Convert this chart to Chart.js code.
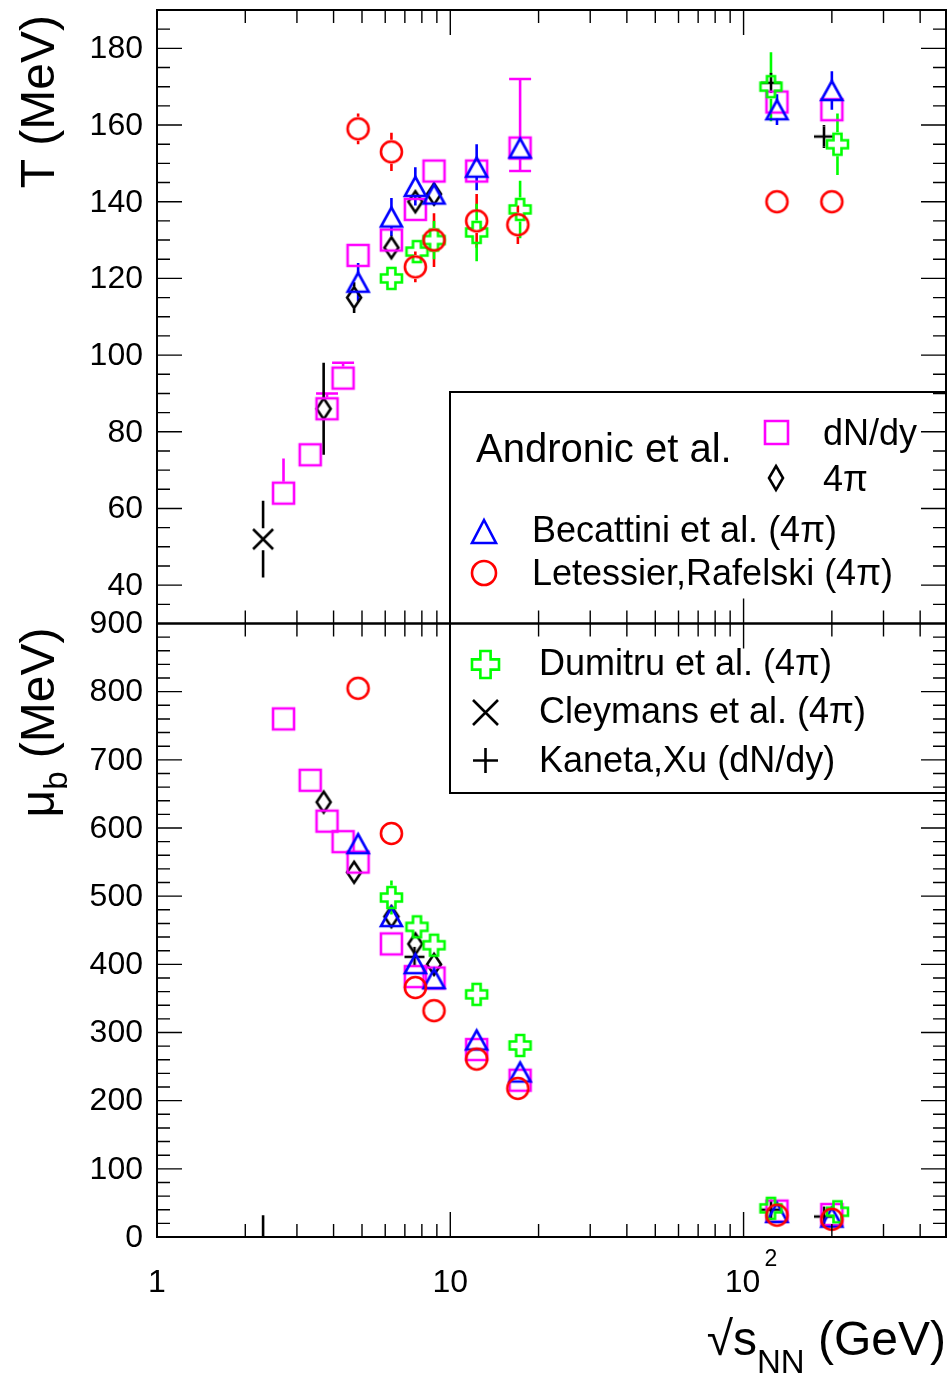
<!DOCTYPE html>
<html>
<head>
<meta charset="utf-8">
<script src="https://cdn.jsdelivr.net/npm/chart.js@4.4.0/dist/chart.umd.min.js"></script>
<style>
  html, body { margin: 0; padding: 0; background: #fff; overflow: hidden; }
  canvas { display: block; }
</style>
</head>
<body>
<canvas id="c" width="948" height="1374"></canvas>
<script>
// values: sqrt(s_NN) in GeV, T and mu_b in MeV
// errors: number = symmetric, [lo, hi, cap] = asymmetric (cap = draw end caps)

// Andronic et al., dN/dy (magenta squares)
const andronicX = [2.7, 3.33, 3.8, 4.31, 4.85, 6.3, 7.6, 8.8, 12.3, 17.3, 130, 200];
const andronicT = [64, 74, 86, 94, 126, 130, 138, 148, 148, 154, 166, 164];
const andronicTErr = [[0, 9, 0], 0, [0, 4, 1], [0, 4, 1], 0, 0, 0, 0, 0, [6, 18, 1], 0, 0];
const andronicMu = [760, 670, 610, 580, 550, 430, 382, 380, 275, 230, 38, 33];
const andronicMuErr = [7, 0, 0, 0, 0, 0, 0, 0, 0, 0, 0, 0];

// Andronic et al., 4pi (diamonds)
const andronic4piX = [3.7, 4.7, 6.3, 7.6, 8.8];
const andronic4piT = [86, 115, 128, 140, 142];
const andronic4piTErr = [12, 4, 2, 2, 2];
const andronic4piMu = [638, 535, 470, 430, 400];

// Becattini et al. (triangles)
const becattiniX = [4.85, 6.3, 7.6, 8.8, 12.3, 17.3, 130, 200];
const becattiniT = [119, 136, 144, 142, 149, 154, 164, 169];
const becattiniTErr = [5, 5, 5, 3, 6, 3, 4, 5];
const becattiniMu = [577, 470, 401, 379, 289, 242, 36, 29];

// Letessier, Rafelski (circles)
const letessierX = [4.85, 6.3, 7.6, 8.8, 12.3, 17.0, 130, 200];
const letessierT = [159, 153, 123, 130, 135, 134, 140, 140];
const letessierTErr = [4, 5, 4, 7, 7, 5, 0, 0];
const letessierMu = [805, 592, 366, 332, 261, 218, 32, 26];

// Dumitru et al. (open crosses)
const dumitruX = [6.3, 7.7, 8.8, 12.3, 17.3, 124, 209];
const dumitruT = [120, 127, 130, 132, 138, 170, 155];
const dumitruTErr = [0, 0, 5, 7.5, 7.5, 9, 8];
const dumitruMu = [498, 455, 428, 356, 281, 42, 37];
const dumitruMuErr = [25, 0, 0, 0, 0, 0, 0];

// Cleymans et al. (x) - mu_b point lies below the frame, only its bar shows
const cleymansX = [2.3];
const cleymansT = [52];
const cleymansTErr = [10];
const cleymansMu = [-20];
const cleymansMuErr = [52];

// Kaneta, Xu (+)
const kanetaX = [7.55, 124, 188];
const kanetaT = [null, 171, 157];
const kanetaTErr = [0, 0, 3];
const kanetaMu = [411, 40, 30];

// axis ticks / labels
const xRange = [1, 490];
const tRange = [30, 190];
const muRange = [0, 900];
const tTickLabels = [40, 60, 80, 100, 120, 140, 160, 180];
const muTickLabels = [0, 100, 200, 300, 400, 500, 600, 700, 800, 900];
const xTickLabels = [1, 10, 100];

const FONT = "'Liberation Sans', Arial, Helvetica, sans-serif";

// marker bitmaps (ROOT-like open markers)
function makeMarker(kind, w, h, color, lw) {
    const pad = Math.ceil(lw) + 1;
    const c = document.createElement('canvas');
    c.width = Math.round(w + 2 * pad);
    c.height = Math.round(h + 2 * pad);
    const g = c.getContext('2d');
    g.strokeStyle = color;
    g.lineWidth = lw;
    const cx = c.width / 2, cy = c.height / 2, a = w / 2, b = h / 2;
    g.beginPath();
    if (kind === 'square') g.rect(cx - a, cy - b, w, h);
    else if (kind === 'circle') g.arc(cx, cy, a, 0, Math.PI * 2);
    else if (kind === 'triangle') {
        g.moveTo(cx, cy - b); g.lineTo(cx + a, cy + b); g.lineTo(cx - a, cy + b); g.closePath();
    } else if (kind === 'diamond') {
        g.moveTo(cx, cy - b); g.lineTo(cx + a, cy); g.lineTo(cx, cy + b); g.lineTo(cx - a, cy); g.closePath();
    } else if (kind === 'opencross') {
        const t = w * 0.19;
        const pts = [[-t, -a], [t, -a], [t, -t], [a, -t], [a, t], [t, t], [t, a], [-t, a], [-t, t], [-a, t], [-a, -t], [-t, -t]];
        pts.forEach((p, i) => i ? g.lineTo(cx + p[0], cy + p[1]) : g.moveTo(cx + p[0], cy + p[1]));
        g.closePath();
    } else if (kind === 'x') {
        g.moveTo(cx - a, cy - b); g.lineTo(cx + a, cy + b);
        g.moveTo(cx + a, cy - b); g.lineTo(cx - a, cy + b);
    } else if (kind === 'plus') {
        g.moveTo(cx - a, cy); g.lineTo(cx + a, cy);
        g.moveTo(cx, cy - b); g.lineTo(cx, cy + b);
    }
    g.stroke();
    return c;
}

const MAG = '#ff00ff', RED = '#ff0000', BLUE = '#0000ff', GREEN = '#00ff00', BLK = '#000000';
const LW = 2.6;

const mk = {
    square: makeMarker('square', 21, 21, MAG, LW),
    diamond: makeMarker('diamond', 14, 21, BLK, LW),
    triangle: makeMarker('triangle', 21, 19, BLUE, LW),
    circle: makeMarker('circle', 21, 21, RED, LW),
    cross: makeMarker('opencross', 21, 21, GREEN, LW),
    x: makeMarker('x', 20, 20, BLK, LW),
    plus: makeMarker('plus', 20, 20, BLK, LW)
};
const mkLeg = {
    square: makeMarker('square', 23, 23, MAG, LW),
    diamond: makeMarker('diamond', 14, 24, BLK, LW),
    triangle: makeMarker('triangle', 24, 23, BLUE, LW),
    circle: makeMarker('circle', 24, 24, RED, LW),
    cross: makeMarker('opencross', 27, 27, GREEN, LW),
    x: makeMarker('x', 25, 25, BLK, LW),
    plus: makeMarker('plus', 25, 25, BLK, LW)
};

// build datasets (one per series per panel)
const datasets = [];
function addSeries(xs, ys, errs, axis, marker, color, gap) {
    const data = [];
    xs.forEach((x, i) => {
        if (ys[i] == null) return;
        data.push({ x: x, y: ys[i], e: errs ? errs[i] : 0 });
    });
    datasets.push({
        data: data,
        yAxisID: axis,
        pointStyle: marker,
        pointRadius: 11,
        showLine: false,
        errColor: color,
        gap: gap
    });
}

addSeries(cleymansX, cleymansT, cleymansTErr, 'yT', mk.x, BLK, 11);
addSeries(cleymansX, cleymansMu, cleymansMuErr, 'yM', mk.x, BLK, 11);
addSeries(letessierX, letessierT, letessierTErr, 'yT', mk.circle, RED, 12);
addSeries(letessierX, letessierMu, null, 'yM', mk.circle, RED, 12);
addSeries(dumitruX, dumitruT, dumitruTErr, 'yT', mk.cross, GREEN, 12);
addSeries(dumitruX, dumitruMu, dumitruMuErr, 'yM', mk.cross, GREEN, 12);
addSeries(becattiniX, becattiniT, becattiniTErr, 'yT', mk.triangle, BLUE, 9);
addSeries(becattiniX, becattiniMu, null, 'yM', mk.triangle, BLUE, 9);
addSeries(andronicX, andronicT, andronicTErr, 'yT', mk.square, MAG, 11.5);
addSeries(andronicX, andronicMu, andronicMuErr, 'yM', mk.square, MAG, 11.5);
addSeries(andronic4piX, andronic4piT, andronic4piTErr, 'yT', mk.diamond, BLK, 11);
addSeries(andronic4piX, andronic4piMu, null, 'yM', mk.diamond, BLK, 11);
addSeries(kanetaX, kanetaT, kanetaTErr, 'yT', mk.plus, BLK, 10);
addSeries(kanetaX, kanetaMu, null, 'yM', mk.plus, BLK, 10);

// error bars, kept out of the open markers
const errorBars = {
    id: 'errorBars',
    beforeDatasetsDraw(chart) {
        const ctx = chart.ctx;
        chart.data.datasets.forEach((ds, i) => {
            const meta = chart.getDatasetMeta(i);
            const xs = meta.xScale, ys = meta.yScale;
            ctx.save();
            ctx.beginPath();
            ctx.rect(xs.left, ys.top, xs.right - xs.left, ys.bottom - ys.top);
            ctx.clip();
            ctx.strokeStyle = ds.errColor;
            ctx.lineWidth = LW;
            ds.data.forEach(p => {
                if (!p.e) return;
                const lo = Array.isArray(p.e) ? p.e[0] : p.e;
                const hi = Array.isArray(p.e) ? p.e[1] : p.e;
                const cap = Array.isArray(p.e) && p.e[2] ? 11 : 0;
                const px = xs.getPixelForValue(p.x), py = ys.getPixelForValue(p.y);
                const top = ys.getPixelForValue(p.y + hi), bot = ys.getPixelForValue(p.y - lo);
                ctx.beginPath();
                if (hi > 0 && py - top > ds.gap) {
                    ctx.moveTo(px, top); ctx.lineTo(px, py - ds.gap);
                    if (cap) { ctx.moveTo(px - cap, top); ctx.lineTo(px + cap, top); }
                }
                if (lo > 0 && bot - py > ds.gap) {
                    ctx.moveTo(px, bot); ctx.lineTo(px, py + ds.gap);
                    if (cap) { ctx.moveTo(px - cap, bot); ctx.lineTo(px + cap, bot); }
                }
                ctx.stroke();
            });
            ctx.restore();
        });
    }
};

// ROOT-style legend box spanning both pads
const rootLegend = {
    id: 'rootLegend',
    afterDatasetsDraw(chart) {
        const ctx = chart.ctx;
        const L = 450, T = 392, R = chart.chartArea.right, B = 793;
        ctx.save();
        ctx.fillStyle = '#fff';
        ctx.fillRect(L, T, R - L, B - T);
        ctx.strokeStyle = '#000';
        ctx.lineWidth = 2;
        ctx.strokeRect(L, T, R - L, B - T);
        const put = (m, x, y) => ctx.drawImage(m, Math.round(x - m.width / 2), Math.round(y - m.height / 2));
        ctx.fillStyle = '#000';
        ctx.textBaseline = 'alphabetic';
        ctx.textAlign = 'left';
        ctx.font = '40px ' + FONT;
        ctx.fillText('Andronic et al.', 476, 462);
        ctx.font = '36px ' + FONT;
        put(mkLeg.square, 776, 432);
        ctx.fillText('dN/dy', 823, 445);
        put(mkLeg.diamond, 776, 478);
        ctx.fillText('4\u03c0', 823, 491);
        put(mkLeg.triangle, 484, 531);
        ctx.fillText('Becattini et al. (4\u03c0)', 532, 542);
        put(mkLeg.circle, 484, 573);
        ctx.fillText('Letessier,Rafelski (4\u03c0)', 532, 585);
        put(mkLeg.cross, 485, 664);
        ctx.fillText('Dumitru et al. (4\u03c0)', 539, 675);
        put(mkLeg.x, 485, 712);
        ctx.fillText('Cleymans et al. (4\u03c0)', 539, 723);
        put(mkLeg.plus, 485, 760);
        ctx.fillText('Kaneta,Xu (dN/dy)', 539, 772);
        ctx.restore();
    }
};

// frames, inward ticks, labels and titles
const rootAxes = {
    id: 'rootAxes',
    afterDraw(chart) {
        const ctx = chart.ctx;
        const xs = chart.scales.x, yT = chart.scales.yT, yM = chart.scales.yM;
        const L = xs.left, R = xs.right;
        const seg = (x1, y1, x2, y2) => { ctx.moveTo(x1, y1); ctx.lineTo(x2, y2); };
        ctx.save();
        ctx.strokeStyle = '#000';

        // x ticks (log): 1..9, 10..90, 100..400
        const xt = [];
        for (let d = 1; d <= 100; d *= 10)
            for (let k = 1; k <= 9; k++) if (k * d <= xRange[1]) xt.push([k * d, k === 1]);
        ctx.lineWidth = 1.4;
        ctx.beginPath();
        [yT, yM].forEach(ys => {
            xt.forEach(([v, major]) => {
                const px = xs.getPixelForValue(v);
                const len = major ? 25 : 13;
                seg(px, ys.bottom, px, ys.bottom - len);
                seg(px, ys.top, px, ys.top + len);
            });
        });
        // y ticks
        const yTicks = (ys, lo, hi, minor, major) => {
            for (let v = lo; v <= hi; v += minor) {
                const py = ys.getPixelForValue(v);
                const len = v % major === 0 ? 25 : 13;
                seg(L, py, L + len, py);
                seg(R, py, R - len, py);
            }
        };
        yTicks(yT, tRange[0] + 5, tRange[1] - 5, 5, 20);
        yTicks(yM, muRange[0] + 20, muRange[1] - 20, 20, 100);
        ctx.stroke();

        // frames
        ctx.lineWidth = 2;
        ctx.strokeRect(L, yT.top, R - L, yT.bottom - yT.top);
        ctx.strokeRect(L, yM.top, R - L, yM.bottom - yM.top);

        // tick labels
        ctx.fillStyle = '#000';
        ctx.font = '32px ' + FONT;
        ctx.textAlign = 'right';
        ctx.textBaseline = 'middle';
        tTickLabels.forEach(v => ctx.fillText(String(v), 143, yT.getPixelForValue(v) + 1));
        muTickLabels.forEach(v => ctx.fillText(String(v), 143, yM.getPixelForValue(v) + 1));
        ctx.textAlign = 'center';
        ctx.textBaseline = 'alphabetic';
        xTickLabels.forEach(v => {
            const px = xs.getPixelForValue(v);
            if (v < 100) {
                ctx.fillText(String(v), px, 1292);
            } else {
                ctx.fillText('10', px - 1, 1292);
                ctx.font = '23px ' + FONT;
                ctx.textAlign = 'left';
                ctx.fillText(String(Math.round(Math.log10(v))), px + 21, 1266);
                ctx.font = '32px ' + FONT;
                ctx.textAlign = 'center';
            }
        });

        // axis titles
        const big = '48px ' + FONT, sub = '33px ' + FONT;
        // x title, right aligned to the frame
        ctx.textAlign = 'left';
        ctx.font = big; const w1 = ctx.measureText('\u221as').width;
        ctx.font = sub; const w2 = ctx.measureText('NN').width;
        ctx.font = big; const w3 = ctx.measureText(' (GeV)').width;
        let x0 = R - (w1 + w2 + w3);
        ctx.font = big; ctx.fillText('\u221as', x0, 1355);
        ctx.font = sub; ctx.fillText('NN', x0 + w1, 1373);
        ctx.font = big; ctx.fillText(' (GeV)', x0 + w1 + w2, 1355);

        // y title top pad
        ctx.save();
        ctx.translate(54, yT.top + 5);
        ctx.rotate(-Math.PI / 2);
        ctx.textAlign = 'right';
        ctx.font = big;
        ctx.fillText('T (MeV)', 0, 0);
        ctx.restore();

        // y title bottom pad: mu_b (MeV)
        ctx.save();
        ctx.translate(54, yM.top + 4);
        ctx.rotate(-Math.PI / 2);
        ctx.textAlign = 'left';
        ctx.font = big; const m1 = ctx.measureText('\u03bc').width;
        ctx.font = sub; const m2 = ctx.measureText('b').width;
        ctx.font = big; const m3 = ctx.measureText(' (MeV)').width;
        const s0 = -(m1 + m2 + m3);
        ctx.font = big; ctx.fillText('\u03bc', s0, 0);
        ctx.font = sub; ctx.fillText('b', s0 + m1, 13);
        ctx.font = big; ctx.fillText(' (MeV)', s0 + m1 + m2, 0);
        ctx.restore();

        ctx.restore();
    }
};

new Chart(document.getElementById('c'), {
    type: 'scatter',
    data: { datasets: datasets },
    options: {
        responsive: false,
        animation: false,
        events: [],
        layout: { autoPadding: false, padding: { left: 157, right: 2, top: 10, bottom: 137 } },
        plugins: { legend: { display: false }, tooltip: { enabled: false } },
        scales: {
            x: { type: 'logarithmic', min: xRange[0], max: xRange[1], display: false },
            yT: { type: 'linear', position: 'left', stack: 'pads', stackWeight: 1, weight: 1,
                  min: tRange[0], max: tRange[1], display: false },
            yM: { type: 'linear', position: 'left', stack: 'pads', stackWeight: 1, weight: 0,
                  min: muRange[0], max: muRange[1], display: false }
        }
    },
    plugins: [errorBars, rootLegend, rootAxes]
});
</script>
</body>
</html>
